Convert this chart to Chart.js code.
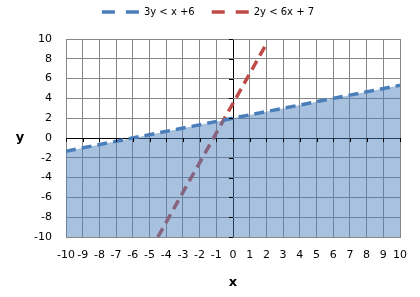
<!DOCTYPE html>
<html>
<head>
<meta charset="utf-8">
<script src="https://cdn.jsdelivr.net/npm/chart.js@4.4.1/dist/chart.umd.min.js"></script>
<style>
  html, body { margin: 0; padding: 0; background: #fff; }
  #wrap { width: 420px; height: 297px; }
</style>
</head>
<body>
<div id="wrap"><canvas id="chart" width="420" height="297"></canvas></div>
<script>
// boundary of 3y < x + 6
const blueX = [-10, 10];
const blueY = [-1.33, 5.33];
// boundary of 2y < 6x + 7
const redX = [-4.5, 2];
const redY = [-10, 9.5];
const seriesNames = ['3y < x +6', '2y < 6x + 7'];
const xTicks = [-10, -9, -8, -7, -6, -5, -4, -3, -2, -1, 0, 1, 2, 3, 4, 5, 6, 7, 8, 9, 10];
const yTicks = [-10, -8, -6, -4, -2, 0, 2, 4, 6, 8, 10];

const toPoints = (xs, ys) => xs.map((x, i) => ({ x: x, y: ys[i] }));
const tickFont = { family: 'DejaVu Sans', size: 11 };
const gridColor = (c) => (c.tick && c.tick.value === 0 ? '#000000' : '#878787');

// axis titles ("x" / "y") and the little tick marks on the zero axes
const axisDecor = {
    id: 'axisDecor',
    afterInit(chart) {
        const legend = chart.legend;
        if (legend) {
            // gap under the legend, and nudge it right like the original
            const fit = legend.fit;
            legend.fit = function() { fit.call(this); this.height += 12; };
            const draw = legend.draw;
            legend.draw = function() {
                this.left += 8; this.right += 8;
                draw.call(this);
                this.left -= 8; this.right -= 8;
            };
        }
    },
    afterDatasetsDraw(chart) {
        const { ctx, scales: { x, y } } = chart;
        const x0 = x.getPixelForValue(0);
        const y0 = y.getPixelForValue(0);
        ctx.save();
        ctx.strokeStyle = '#000';
        ctx.lineWidth = 1;
        ctx.beginPath();
        xTicks.forEach(v => {
            const px = Math.round(x.getPixelForValue(v)) + 0.5;
            ctx.moveTo(px, y0);
            ctx.lineTo(px, y0 + 4);
        });
        yTicks.forEach(v => {
            const py = Math.round(y.getPixelForValue(v)) + 0.5;
            ctx.moveTo(x0 - 4, py);
            ctx.lineTo(x0, py);
        });
        ctx.stroke();
        ctx.fillStyle = '#000';
        ctx.font = 'bold 13px "DejaVu Sans"';
        ctx.textAlign = 'center';
        ctx.textBaseline = 'middle';
        ctx.fillText('y', 20, y0);
        ctx.fillText('x', x0, 283);
        ctx.restore();
    }
};

const legendLabels = (chart) => {
    const items = Chart.defaults.plugins.legend.labels.generateLabels(chart);
    items.forEach(i => { i.lineDash = [13, 11]; i.pointStyle = 'line'; i.lineWidth = 3.5; });
    return items;
};

new Chart(document.getElementById('chart').getContext('2d'), {
    type: 'line',
    data: {
        datasets: [{
            label: seriesNames[0],
            data: toPoints(blueX, blueY),
            borderColor: '#4a7ebb',
            backgroundColor: 'rgba(74, 126, 187, 0.48)',
            borderWidth: 3.5,
            borderDash: [10, 6],
            fill: 'start',
            pointRadius: 0
        }, {
            label: seriesNames[1],
            data: toPoints(redX, redY),
            borderColor: '#be4b48',
            borderWidth: 3.5,
            borderDash: [10, 6],
            fill: false,
            pointRadius: 0
        }]
    },
    options: {
        responsive: false,
        animation: false,
        layout: { padding: { top: -10, right: 20, bottom: 0, left: 0 } },
        plugins: {
            tooltip: { enabled: false },
            legend: {
                position: 'top',
                labels: {
                    usePointStyle: true,
                    pointStyleWidth: 37,
                    padding: 17,
                    color: '#000',
                    font: { family: 'DejaVu Sans', size: 10 },
                    generateLabels: legendLabels
                }
            }
        },
        scales: {
            x: {
                type: 'linear',
                min: -10,
                max: 10,
                afterBuildTicks: s => { s.ticks = xTicks.map(v => ({ value: v })); },
                afterFit: s => { s.height = 60; },
                grid: { color: gridColor, drawTicks: false },
                border: { color: '#878787' },
                ticks: { autoSkip: false, maxRotation: 0, padding: 12, color: '#000', font: tickFont }
            },
            y: {
                min: -10,
                max: 10,
                afterBuildTicks: s => { s.ticks = yTicks.map(v => ({ value: v })); },
                afterFit: s => { s.width = 66; },
                grid: { color: gridColor, drawTicks: false },
                border: { color: '#878787' },
                ticks: { padding: 14, color: '#000', font: tickFont }
            }
        }
    },
    plugins: [axisDecor]
});
</script>
</body>
</html>
